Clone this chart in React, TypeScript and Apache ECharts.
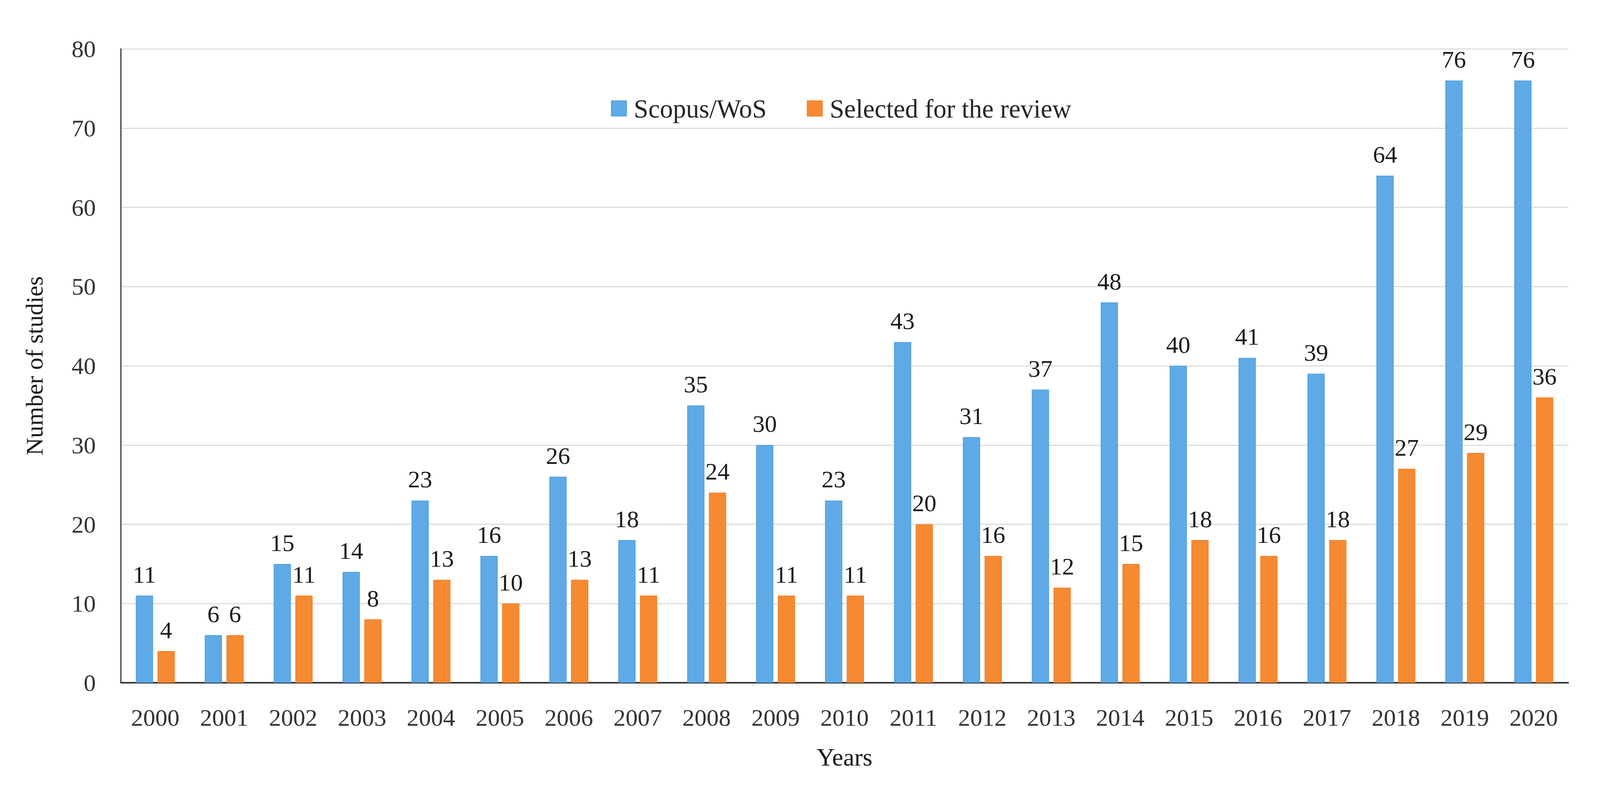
import React, { useEffect, useRef } from "react";
import * as echarts from "echarts";

const years = [
  "2000", "2001", "2002", "2003", "2004", "2005", "2006", "2007", "2008", "2009", "2010",
  "2011", "2012", "2013", "2014", "2015", "2016", "2017", "2018", "2019", "2020",
];
const scopusWos = [11, 6, 15, 14, 23, 16, 26, 18, 35, 30, 23, 43, 31, 37, 48, 40, 41, 39, 64, 76, 76];
const selected = [4, 6, 11, 8, 13, 10, 13, 11, 24, 11, 11, 20, 16, 12, 15, 18, 16, 18, 27, 29, 36];
const seriesNames = ["Scopus/WoS", "Selected for the review"];
const yTicks = { min: 0, max: 80, interval: 10 };

const FONT = "Liberation Serif";

export default function App() {
  const ref = useRef<HTMLDivElement>(null);
  useEffect(() => {
    if (!ref.current) return;
    const W = window.innerWidth;
    const H = window.innerHeight;
    const sx = W / 4224;
    const sy = H / 2024;
    const s = Math.min(sx, sy);
    const chart = echarts.init(ref.current, undefined, { renderer: "svg", width: W, height: H });
    const FS = 64 * s;
    const label = {
      show: true,
      position: "top" as const,
      distance: 24 * s,
      fontFamily: FONT,
      fontSize: FS,
      color: "#1a1a1a",
    };
    chart.setOption({
      animation: false,
      backgroundColor: "#ffffff",
      textStyle: { fontFamily: FONT },
      grid: { left: 319 * sx, right: 84 * sx, top: 125 * sy, bottom: 277 * sy, containLabel: false },
      legend: {
        left: 1613 * sx,
        top: 244 * sy,
        padding: 0,
        itemWidth: 40 * s,
        itemHeight: 40 * s,
        itemGap: 106 * s,
        icon: "rect",
        textStyle: { fontFamily: FONT, fontSize: 69 * s, color: "#262626", padding: [0, 0, 0, 14 * s] },
        data: seriesNames,
      },
      xAxis: {
        type: "category",
        data: years,
        name: "Years",
        nameLocation: "middle",
        nameGap: 158 * sy,
        nameTextStyle: { fontFamily: FONT, fontSize: 66 * s, color: "#1a1a1a" },
        axisLine: { show: true, lineStyle: { color: "#333333", width: 4 * s } },
        axisTick: { show: false },
        axisLabel: { margin: 58 * sy, fontFamily: FONT, fontSize: FS, color: "#333333" },
      },
      yAxis: {
        type: "value",
        min: yTicks.min,
        max: yTicks.max,
        interval: yTicks.interval,
        name: "Number of studies",
        nameLocation: "middle",
        nameGap: 196 * sx,
        nameTextStyle: { fontFamily: FONT, fontSize: 64 * s, color: "#1a1a1a" },
        axisLine: { show: true, lineStyle: { color: "#333333", width: 3 * s } },
        axisTick: { show: false },
        axisLabel: { margin: 66 * sx, fontFamily: FONT, fontSize: FS, color: "#333333" },
        splitLine: { show: true, lineStyle: { color: "#dddddd", width: 3 * s } },
      },
      series: [
        {
          name: seriesNames[0],
          type: "bar",
          data: scopusWos,
          barWidth: "25%",
          barGap: "26%",
          itemStyle: { color: "#5FAAE6", borderColor: "#4D9FE2", borderWidth: 2 * s },
          label,
        },
        {
          name: seriesNames[1],
          type: "bar",
          data: selected,
          barWidth: "25%",
          barGap: "26%",
          itemStyle: { color: "#F68A33", borderColor: "#F47E20", borderWidth: 2 * s },
          label,
        },
      ],
    });
    return () => chart.dispose();
  }, []);
  return (
    <div
      ref={ref}
      style={{ position: "fixed", left: 0, top: 0, width: "100vw", height: "100vh", background: "#fff" }}
    />
  );
}
